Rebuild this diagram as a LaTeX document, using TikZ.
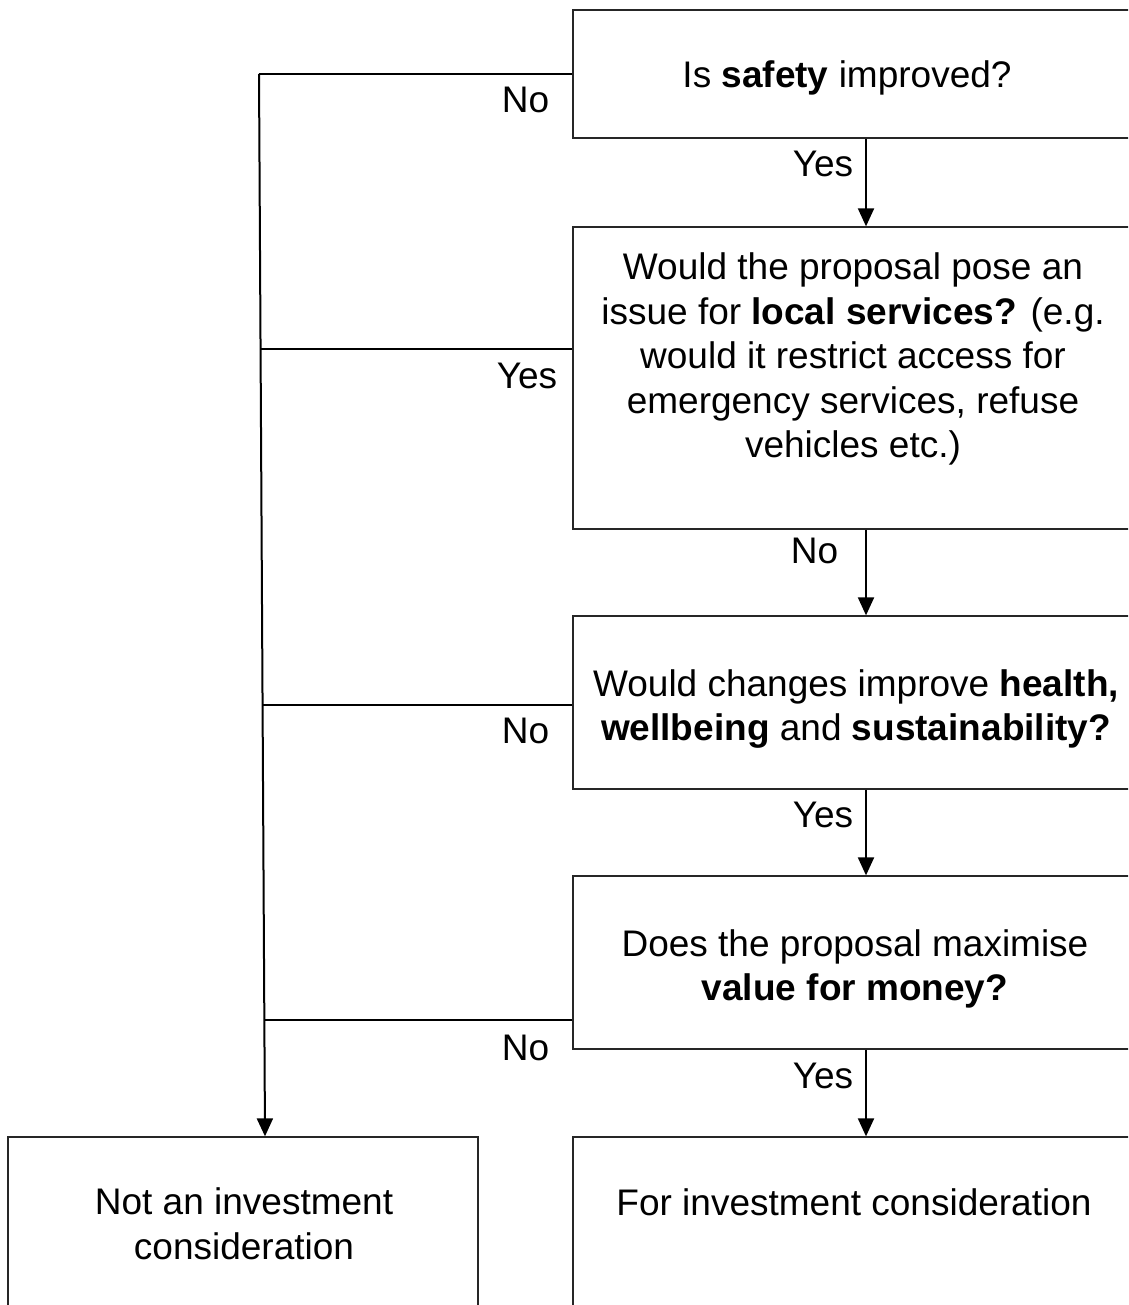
\documentclass[tikz,border=0pt]{standalone}
\usepackage{fontspec}
\setmainfont{Liberation Sans}
\usetikzlibrary{arrows.meta}
\begin{document}
\begin{tikzpicture}[x=1pt,y=-1pt,
  box/.style={draw=black!85,line width=1.3pt,rectangle,inner sep=0pt},
  txt/.style={inner sep=0pt,align=center,font=\fontsize{37}{44.5}\selectfont},
  lbl/.style={inner sep=0pt,font=\fontsize{37}{44.5}\selectfont},
  conn/.style={line width=2pt,black},
  arr/.style={conn,-{Triangle[width=16pt,length=18pt]}}]
\useasboundingbox (0,0) rectangle (1128,1305);
\clip (0,0) rectangle (1128,1305);
\fill[white] (0,0) rectangle (1128,1305);
% boxes
\node[box,minimum width=564pt,minimum height=128pt] (b1) at (855,74) {};
\node[box,minimum width=564pt,minimum height=302pt] (b2) at (855,378) {};
\node[box,minimum width=564pt,minimum height=173pt] (b3) at (855,702.5) {};
\node[box,minimum width=564pt,minimum height=173pt] (b4) at (855,962.5) {};
\node[box,minimum width=564pt,minimum height=300pt] (b5) at (855,1287) {};
\node[box,minimum width=470pt,minimum height=300pt] (b6) at (243,1287) {};
% texts
\node[txt] (t1) at (847,78) {Is \textbf{safety} improved?};
\node[txt] (t2) at (853,359) {Would the proposal pose an\\issue for \textbf{local services?} (e.g.\\would it restrict access for\\emergency services, refuse\\vehicles etc.)};
\node[txt] (t3) at (856,709) {Would changes improve \textbf{health,}\\\textbf{wellbeing} and \textbf{sustainability?}};
\node[txt] (t4) at (855,969) {Does the proposal maximise\\\textbf{value for money?}};
\node[txt] (t5) at (854,1202) {For investment consideration};
\node[txt] (t6) at (244,1224) {Not an investment\\consideration};
% labels
\node[lbl] (n1) at (525.5,100) {No};
\node[lbl] (y1) at (823,164) {Yes};
\node[lbl] (y2) at (527,376) {Yes};
\node[lbl] (n2) at (814.5,550.5) {No};
\node[lbl] (n3) at (525.5,731) {No};
\node[lbl] (y3) at (823,814.5) {Yes};
\node[lbl] (n4) at (525.5,1048) {No};
\node[lbl] (y4) at (823,1076) {Yes};
% coordinates
\coordinate (ax) at (866,0);
\coordinate (tr0) at (259,74);
\coordinate (tr1) at (260.6,349);
\coordinate (tr2) at (262.6,705);
\coordinate (tr3) at (264.3,1020);
\coordinate (trend) at (265,1136);
% down arrows
\draw[arr] (b1.south -| ax) -- (b2.north -| ax);
\draw[arr] (b2.south -| ax) -- (b3.north -| ax);
\draw[arr] (b3.south -| ax) -- (b4.north -| ax);
\draw[arr] (b4.south -| ax) -- (b5.north -| ax);
% trunk
\draw[conn] (b1.west |- tr0) -- (tr0);
\draw[conn] (b2.west |- tr1) -- (tr1);
\draw[conn] (b3.west |- tr2) -- (tr2);
\draw[conn] (b4.west |- tr3) -- (tr3);
\draw[arr] (tr0) -- (b6.north -| trend);
\end{tikzpicture}
\end{document}
